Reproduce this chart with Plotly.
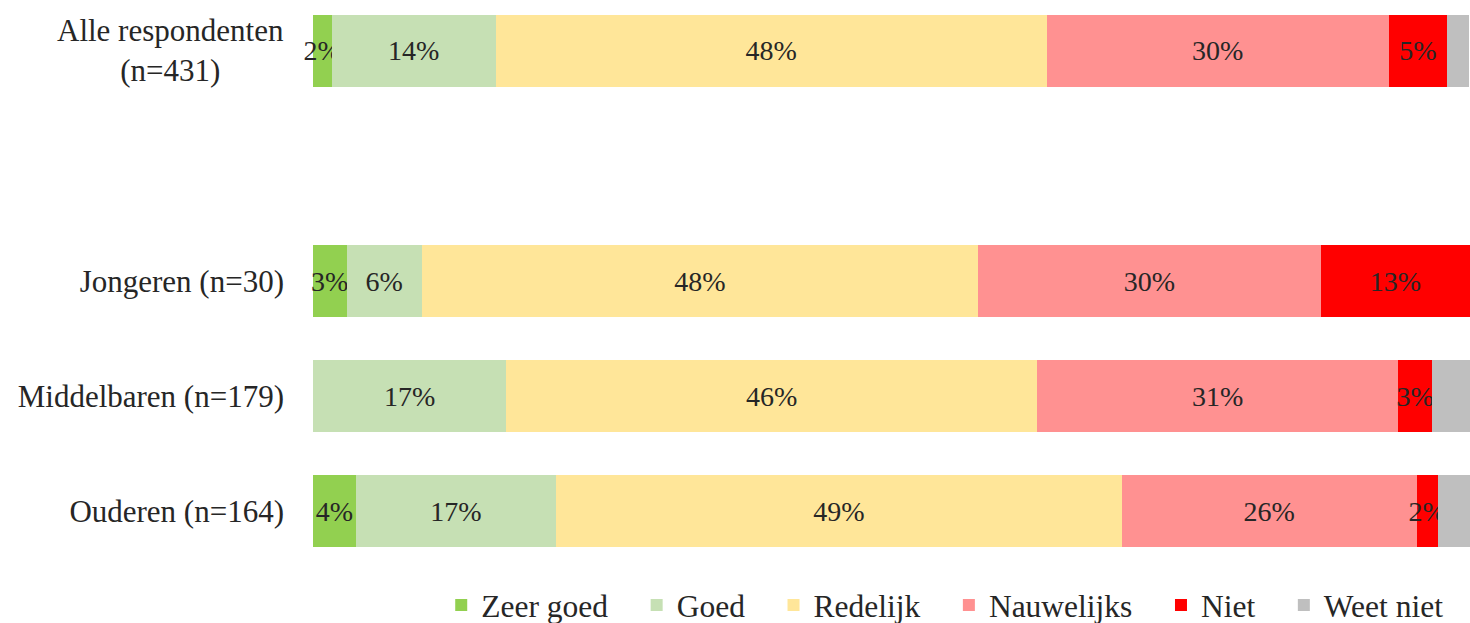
import plotly.graph_objects as go

groups = ["", "Jongeren (n=30)", "Middelbaren (n=179)", "Ouderen (n=164)"]
first_group = "Alle respondenten<br>(n=431)"
group_pos = [0, 2, 3, 4]

series = ["Zeer goed", "Goed", "Redelijk", "Nauwelijks", "Niet", "Weet niet"]
zeer_goed = [1.6, 2.9, 0.0, 3.7]
goed = [14.2, 6.5, 16.7, 17.3]
redelijk = [47.6, 48.1, 45.9, 48.9]
nauwelijks = [29.6, 29.6, 31.2, 25.5]
niet = [5.0, 12.9, 2.9, 1.8]
weet_niet = [1.9, 0.0, 3.3, 2.8]
values = [zeer_goed, goed, redelijk, nauwelijks, niet, weet_niet]
colors = ["#92D050", "#C6E0B4", "#FFE699", "#FF9191", "#FF0000", "#BFBFBF"]
show_labels = [True, True, True, True, True, False]

FONT = "Liberation Serif"
TXT = "#262626"
PAD = "\u00a0" * 3

fig = go.Figure()
for i, (name, vals, col, show) in enumerate(zip(series, values, colors, show_labels)):
    texts = [f"{round(v)}%" if (show and v > 0) else "" for v in vals]
    legend_name = name + (PAD if i < len(series) - 1 else "")
    fig.add_trace(go.Bar(
        name=legend_name, x=vals, y=group_pos, orientation="h",
        marker=dict(color=col, line=dict(width=0)),
        text=texts, textposition="inside", insidetextanchor="middle",
        textangle=0,
        textfont=dict(family=FONT, size=28, color=TXT),
        constraintext="none", cliponaxis=False,
        hovertemplate=name + ": %{x}%<extra></extra>",
    ))

fig.add_annotation(
    text=first_group, xref="paper", yref="y", x=0, y=group_pos[0],
    xanchor="right", yanchor="middle", xshift=-27, align="center",
    showarrow=False, font=dict(family=FONT, size=31, color=TXT),
)

fig.update_layout(
    barmode="stack",
    bargap=0.374,
    width=1470, height=623,
    margin=dict(l=313, r=0, t=14, b=75),
    plot_bgcolor="white", paper_bgcolor="white",
    font=dict(family=FONT, size=31, color=TXT),
    uniformtext=dict(minsize=28, mode="show"),
    xaxis=dict(range=[0, 100], visible=False, showgrid=False, zeroline=False),
    yaxis=dict(range=[4.32, -0.32], tickmode="array", tickvals=group_pos, ticktext=groups,
               showgrid=False, zeroline=False, showline=False, ticks="", ticklabelstandoff=28,
               tickfont=dict(family=FONT, size=31, color=TXT)),
    legend=dict(orientation="h", x=0.546, xanchor="center",
                yref="container", y=(623 - 605) / 623, yanchor="middle",
                font=dict(family=FONT, size=31.5, color=TXT), traceorder="normal",
                itemwidth=30),
    showlegend=True,
)

fig.write_html("out.html", config={"displayModeBar": False},
               post_script="document.body.style.margin='0';document.body.style.overflow='hidden';")
